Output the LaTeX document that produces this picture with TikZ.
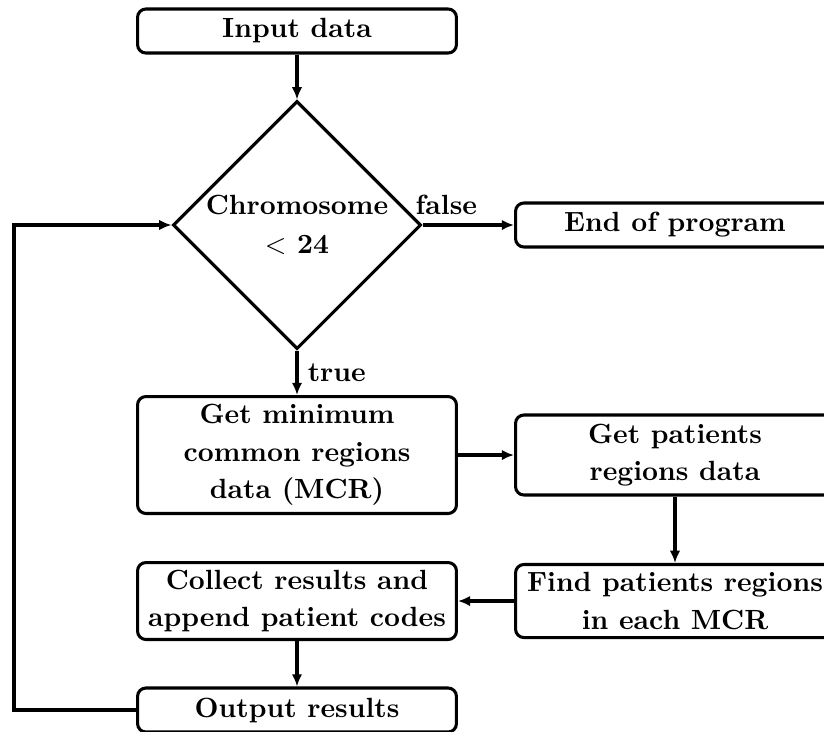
\documentclass[tikz,border=0pt]{standalone}
\usetikzlibrary{shapes.geometric,arrows.meta}
\begin{document}
\begin{tikzpicture}[x=0.36pt,y=-0.36pt,
  every node/.style={font=\fontsize{10}{13.5}\selectfont\bfseries},
  box/.style={draw,line width=1.1pt,rounded corners=3pt,align=center,
    minimum width=114.8pt,inner sep=1pt},
  dec/.style={draw,line width=1.1pt,diamond,aspect=1,minimum width=89.3pt,
    minimum height=89.3pt,inner sep=0pt,align=center},
  arr/.style={line width=1.1pt,-{Latex[length=4.4pt,width=3.8pt]}},
  lbl/.style={font=\fontsize{10}{12}\selectfont\bfseries}]
\useasboundingbox (0,0) rectangle (824,731);
\clip (0,0) rectangle (824,731);
\node[box,minimum height=15.84pt] (in) at (297,31) {Input data};
\node[dec] (dc) at (297,225) {Chromosome\\[0.5pt] $<$ 24};
\node[box,minimum height=15.84pt] (end) at (675,225) {End of program};
\node[box,minimum height=42.1pt] (mcr) at (297,455) {Get minimum\\common regions\\data (MCR)};
\node[box,minimum height=28.8pt] (gp) at (675,455) {Get patients\\regions data};
\node[box,minimum height=26.3pt] (fp) at (675,601) {Find patients regions\\in each MCR};
\node[box,minimum height=27.7pt] (col) at (297,601) {Collect results and\\append patient codes};
\node[box,minimum height=15.84pt] (out) at (297,710) {Output results};
\coordinate (fb) at (14,0);
\draw[arr] (in) -- (dc);
\draw[arr] (dc.east) -- node[lbl,above,pos=0.26] {false} (end.west);
\draw[arr] (dc.south) -- node[lbl,right] {true} (mcr.north);
\draw[arr] (mcr.east) -- (gp.west);
\draw[arr] (gp.south) -- (fp.north);
\draw[arr] (fp.west) -- (col.east);
\draw[arr] (col.south) -- (out.north);
\draw[arr] (out.west) -- (out.west -| fb) |- (dc.west);
\end{tikzpicture}
\end{document}
